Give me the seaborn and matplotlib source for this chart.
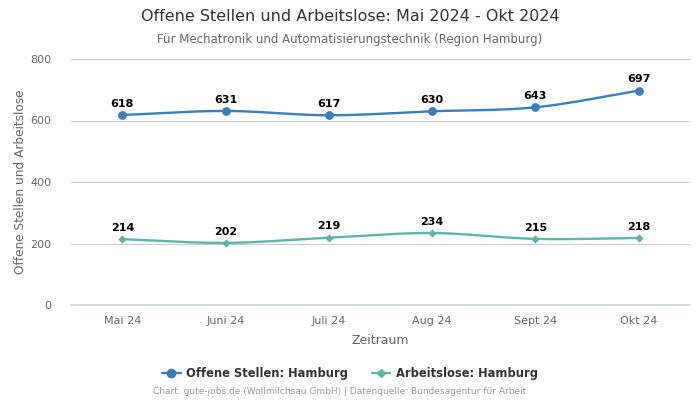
import numpy as np
import pandas as pd
import matplotlib
matplotlib.use("Agg")
import matplotlib.pyplot as plt
import seaborn as sns

months = ["Mai 24", "Juni 24", "Juli 24", "Aug 24", "Sept 24", "Okt 24"]
offene = [618, 631, 617, 630, 643, 697]
arbeitslose = [214, 202, 219, 234, 215, 218]
series_names = ["Offene Stellen: Hamburg", "Arbeitslose: Hamburg"]
colors = ["#3a7fba", "#5cb5ad"]
markers = ["o", "D"]

sns.set_theme(style="white")
plt.rcParams['font.family'] = ['DejaVu Sans']

fig = plt.figure(figsize=(7, 4), dpi=100)
ax = fig.add_axes([0.101, 0.2375, 0.885, 0.615])

df = pd.DataFrame({
    "Zeitraum": months * 2,
    "Wert": offene + arbeitslose,
    "Serie": [series_names[0]] * 6 + [series_names[1]] * 6,
})
df["pos"] = np.tile(np.arange(len(months)), 2)


def smooth(x, y, n=30):
    x = np.asarray(x, float)
    y = np.asarray(y, float)
    m = np.zeros_like(y)
    m[1:-1] = (y[2:] - y[:-2]) / (x[2:] - x[:-2])
    m[0] = (y[1] - y[0]) / (x[1] - x[0])
    m[-1] = (y[-1] - y[-2]) / (x[-1] - x[-2])
    xs, ys = [], []
    for i in range(len(x) - 1):
        h = x[i + 1] - x[i]
        t = np.linspace(0, 1, n)
        h00 = 2 * t**3 - 3 * t**2 + 1
        h10 = t**3 - 2 * t**2 + t
        h01 = -2 * t**3 + 3 * t**2
        h11 = t**3 - t**2
        xs.append(x[i] + t * h)
        ys.append(h00 * y[i] + h10 * h * m[i] + h01 * y[i + 1] + h11 * h * m[i + 1])
    return np.concatenate(xs), np.concatenate(ys)


for name, col, mk, vals in zip(series_names, colors, markers, [offene, arbeitslose]):
    sub = df[df["Serie"] == name]
    sx, sy = smooth(sub["pos"], sub["Wert"])
    ax.plot(sx, sy, color=col, lw=1.7, zorder=3)
    sns.scatterplot(data=sub, x="pos", y="Wert", ax=ax, color=col, marker=mk,
                    s=40 if mk == "o" else 18, edgecolor=col, linewidth=0, zorder=4, legend=False)
    for p, v in zip(sub["pos"], sub["Wert"]):
        ax.annotate(str(v), (p, v), xytext=(0, 4.5), textcoords="offset points",
                    ha="center", va="bottom", fontsize=8, fontweight="bold", color="#000000")

ax.set_xlim(-0.5, len(months) - 0.5)
ax.set_ylim(0, 800)
ax.set_yticks([0, 200, 400, 600, 800])
ax.set_xticks(range(len(months)))
ax.set_xticklabels(months)
ax.tick_params(axis="both", labelsize=8, colors="#666666", length=0)
ax.tick_params(axis="x", pad=8)
ax.tick_params(axis="y", pad=14)
ax.grid(axis="y", color="#cccccc", lw=0.8)
ax.axhline(0, color="#ccd6eb", lw=1.2, zorder=2, clip_on=False)
for s in ax.spines.values():
    s.set_visible(False)
ax.set_xlabel("Zeitraum", fontsize=9, color="#666666", labelpad=6)
ax.set_ylabel("Offene Stellen und Arbeitslose", fontsize=8.7, color="#666666", labelpad=2)

fig.text(0.5, 0.958, "Offene Stellen und Arbeitslose: Mai 2024 - Okt 2024",
         ha="center", va="center", fontsize=11.5, color="#333333")
fig.text(0.5, 0.902, "Für Mechatronik und Automatisierungstechnik (Region Hamburg)",
         ha="center", va="center", fontsize=8.5, color="#666666")

handles = [plt.Line2D([0], [0], color=c, marker=m, markersize=6 if m == "o" else 4, lw=1.7)
           for c, m in zip(colors, markers)]
leg = fig.legend(handles, series_names, loc="center", bbox_to_anchor=(0.5, 0.067),
                 ncol=2, frameon=False, prop={"weight": "bold", "size": 8.3},
                 handlelength=1.6, columnspacing=2.0, handletextpad=0.5)
for t in leg.get_texts():
    t.set_color("#333333")

fig.text(0.485, 0.02, "Chart: gute-jobs.de (Wollmilchsau GmbH) | Datenquelle: Bundesagentur für Arbeit",
         ha="center", va="center", fontsize=6.5, color="#999999")

fig.savefig("out.png", dpi=100)
